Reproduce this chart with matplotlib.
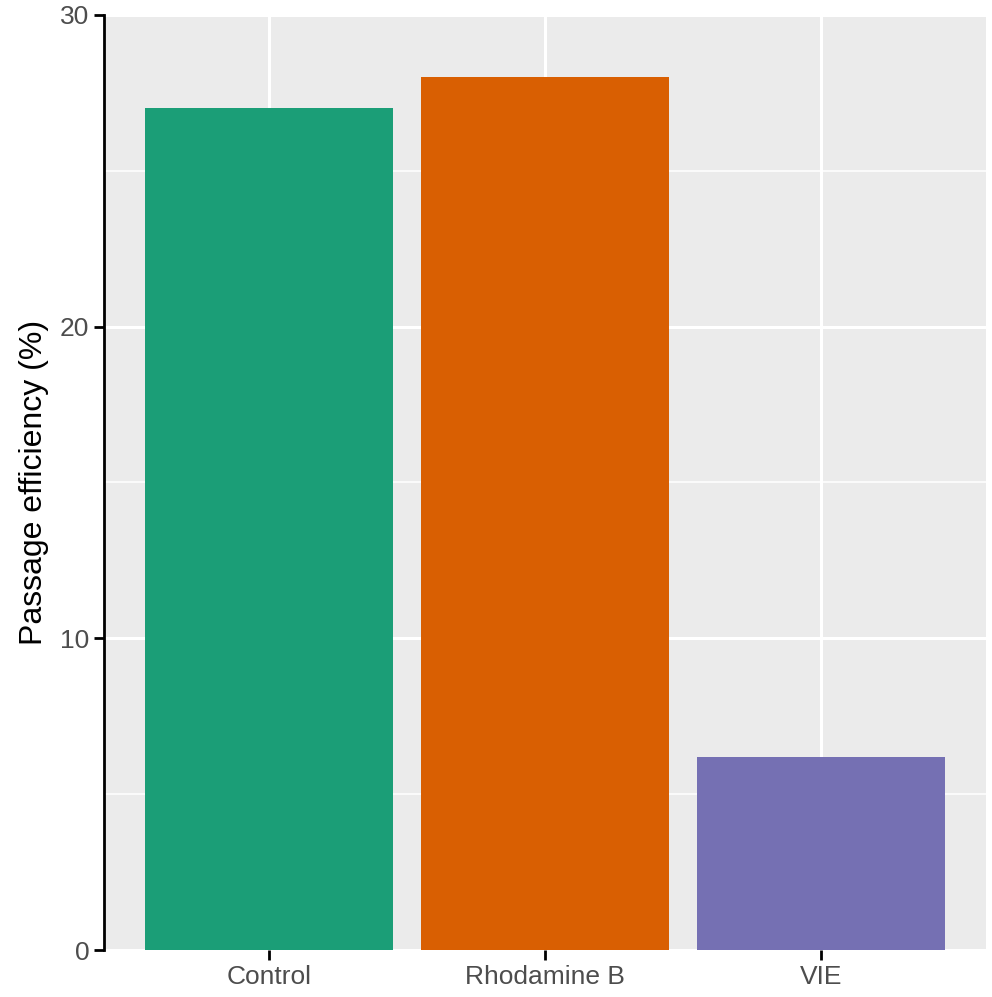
import matplotlib
matplotlib.use("Agg")
import matplotlib.pyplot as plt
from matplotlib.ticker import MultipleLocator

categories = ["Control", "Rhodamine B", "VIE"]
values = [27.0, 28.0, 6.2]
colors = ["#1B9E77", "#D95F02", "#7570B3"]

plt.rcParams["font.family"] = "Liberation Sans"
fig = plt.figure(figsize=(9.92, 9.97), dpi=100)
ax = fig.add_axes([0.1048, 0.0471, 0.8892, 0.9379])
ax.set_facecolor("#EBEBEB")
x = range(len(categories))
ax.bar(x, values, width=0.9, color=colors, zorder=3)
ax.set_xlim(-0.6, 2.6)
ax.set_ylim(0, 30)
ax.yaxis.set_major_locator(MultipleLocator(10))
ax.yaxis.set_minor_locator(MultipleLocator(5))
ax.set_xticks(list(x))
ax.set_xticklabels(categories)
ax.grid(which="major", color="white", linewidth=2.2, zorder=0)
ax.grid(which="minor", axis="y", color="white", linewidth=1.1, zorder=0)
ax.set_axisbelow(True)
for s in ["top", "right", "bottom"]:
    ax.spines[s].set_visible(False)
ax.spines["left"].set_linewidth(2)
ax.spines["left"].set_color("black")
ax.tick_params(axis="both", which="major", length=7, width=2, color="black",
               labelsize=19, labelcolor="#4D4D4D")
ax.tick_params(axis="y", which="minor", length=0)
ax.set_ylabel("Passage efficiency (%)", fontsize=23, color="black", labelpad=8)
fig.savefig("out.png", dpi=100)
